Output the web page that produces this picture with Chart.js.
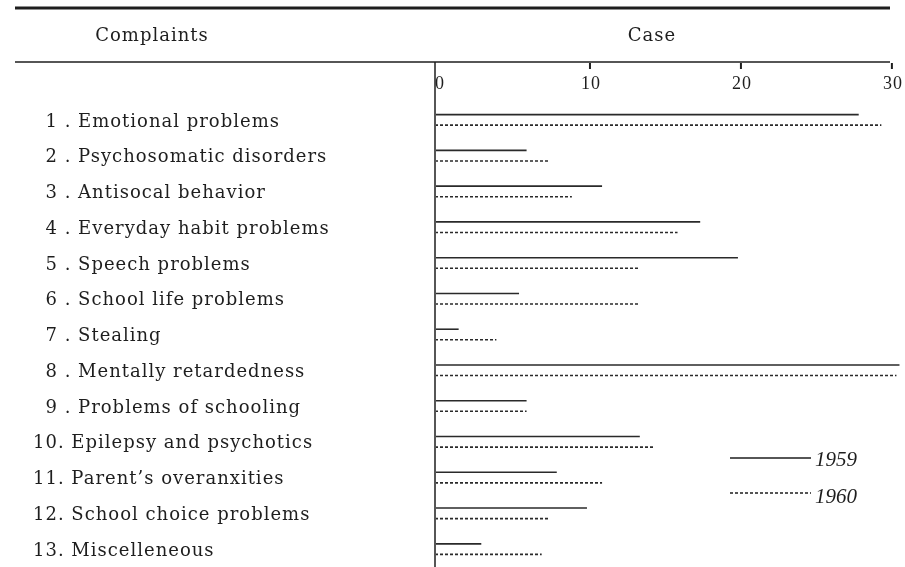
<!DOCTYPE html>
<html>
<head>
<meta charset="utf-8">
<script src="https://cdn.jsdelivr.net/npm/chart.js@4/dist/chart.umd.min.js"></script>
<style>
  body { margin: 0; background: #fff; }
  #wrap { width: 905px; height: 567px; }
</style>
</head>
<body>
<div id="wrap"><canvas id="complaintsChart"></canvas></div>
<script>
// Complaints by number of cases, 1959 and 1960
const complaints = ['Emotional problems', 'Psychosomatic disorders', 'Antisocal behavior',
  'Everyday habit problems', 'Speech problems', 'School life problems', 'Stealing',
  'Mentally retardedness', 'Problems of schooling', 'Epilepsy and psychotics',
  'Parent\u2019s overanxities', 'School choice problems', 'Miscelleneous'];
const cases1959 = [28, 6, 11, 17.5, 20, 5.5, 1.5, 30.7, 6, 13.5, 8, 10, 3];
const cases1960 = [29.5, 7.5, 9, 16, 13.5, 13.5, 4, 30.5, 6, 14.5, 11, 7.5, 7];
const caseTicks = [0, 10, 20, 30];

const ink = '#1e1e1e';
const canvas = document.getElementById('complaintsChart');

// dotted-line fill for the 1960 bars
function dashPattern(color) {
  const c = document.createElement('canvas');
  c.width = 5;
  c.height = 4;
  const g = c.getContext('2d');
  g.fillStyle = color;
  g.fillRect(0, 0, 3, 4);
  return canvas.getContext('2d').createPattern(c, 'repeat');
}

function line(ctx, x1, y1, x2, y2) {
  ctx.beginPath();
  ctx.moveTo(x1, y1);
  ctx.lineTo(x2, y2);
  ctx.stroke();
}

// table rules, headers, tick marks and the little legend
const tableDecor = {
  id: 'tableDecor',
  beforeDraw(chart) {
    chart.ctx.letterSpacing = '1px';
  },
  afterDraw(chart) {
    const { ctx, scales } = chart;
    ctx.save();
    ctx.strokeStyle = ink;
    ctx.fillStyle = ink;

    ctx.lineWidth = 3;
    line(ctx, 15, 8, 890, 8);
    ctx.lineWidth = 1.3;
    line(ctx, 15, 62, 890, 62);
    ctx.lineWidth = 1.5;
    line(ctx, 435, 62, 435, 567);

    ctx.lineWidth = 2;
    caseTicks.forEach(v => {
      if (v === 0) return;
      const x = scales.x.getPixelForValue(v) + 3;
      line(ctx, x, 63, x, 69);
    });

    ctx.font = '18px "DejaVu Serif"';
    ctx.textAlign = 'center';
    ctx.textBaseline = 'alphabetic';
    ctx.fillText('Complaints', 152, 41);
    ctx.fillText('Case', 652, 41);

    ctx.letterSpacing = '0px';
    ctx.font = 'italic 21px "Liberation Serif"';
    ctx.textAlign = 'left';
    const ds = chart.data.datasets;
    ctx.lineWidth = 1.5;
    ctx.setLineDash([]);
    line(ctx, 730, 458, 811, 458);
    ctx.fillText(ds[0].label, 815, 466);
    ctx.setLineDash([3, 2]);
    line(ctx, 730, 493, 811, 493);
    ctx.setLineDash([]);
    ctx.fillText(ds[1].label, 815, 503);
    ctx.restore();
  }
};

new Chart(canvas, {
  type: 'bar',
  data: {
    labels: complaints,
    datasets: [{
      label: '1959',
      data: cases1959,
      backgroundColor: '#2a2a2a',
      maxBarThickness: 1.6,
      categoryPercentage: 0.59,
      barPercentage: 1
    }, {
      label: '1960',
      data: cases1960,
      backgroundColor: dashPattern('#2a2a2a'),
      maxBarThickness: 1.6,
      categoryPercentage: 0.59,
      barPercentage: 1
    }]
  },
  options: {
    indexAxis: 'y',
    responsive: true,
    maintainAspectRatio: false,
    animation: false,
    layout: {
      padding: { left: 33, top: 73, right: 1, bottom: 0 }
    },
    plugins: {
      legend: { display: false },
      tooltip: { enabled: false }
    },
    scales: {
      x: {
        position: 'top',
        min: 0,
        max: 31,
        afterBuildTicks: s => { s.ticks = caseTicks.map(v => ({ value: v })); },
        afterFit: s => { s.height = 29; s.paddingLeft = 0; s.paddingRight = 0; },
        grid: { display: false },
        border: { display: false },
        ticks: {
          padding: -1,
          labelOffset: 4,
          color: ink,
          font: { family: 'Liberation Serif', size: 18 }
        }
      },
      y: {
        afterFit: s => { s.width = 403; s.paddingTop = 0; s.paddingBottom = 0; },
        grid: { display: false },
        border: { display: false },
        ticks: {
          crossAlign: 'far',
          labelOffset: 2,
          color: ink,
          font: { family: 'DejaVu Serif', size: 18 },
          callback: function (value, i) {
            const n = i + 1;
            return n < 10 ? '\u2007' + n + ' . ' + complaints[i] : n + '. ' + complaints[i];
          }
        }
      }
    }
  },
  plugins: [tableDecor]
});
</script>
</body>
</html>
